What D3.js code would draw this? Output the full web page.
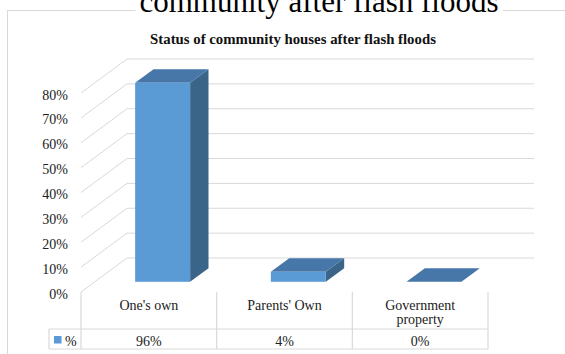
<!DOCTYPE html>
<html>
<head>
<meta charset="utf-8">
<script src="https://cdn.jsdelivr.net/npm/d3@7"></script>
<style>
  html, body { margin: 0; padding: 0; background: #fff; }
  svg { display: block; }
  text { font-family: "Liberation Serif", "Times New Roman", serif; }
</style>
</head>
<body>
<svg id="chart" width="565" height="354"></svg>
<script>
// ---- data ----
const categories = ["One's own", "Parents' Own", "Government property"];
const values = [0.96, 0.04, 0];
const seriesName = "%";
const yTicks = [0, 0.1, 0.2, 0.3, 0.4, 0.5, 0.6, 0.7, 0.8];
const chartTitle = "Status of community houses after flash floods";
const pageHeading = "community after flash floods";

// ---- layout ----
const W = 565, H = 354;
const svg = d3.select("#chart");
const frontLeft = 81, frontRight = 488;
const DX = 46, DY = -34;        // full depth offset of the 3D box
const barFront = 0.3, barBack = 0.7;
const colFront = "#5B9BD5", colTop = "#4677A8", colSide = "#3B6489";
const gridCol = "#d9d9d9";

const x = d3.scaleBand().domain(categories).range([frontLeft, frontRight]).paddingInner(0).paddingOuter(0);
const y = d3.scaleLinear().domain([0, 0.8]).range([292, 93]).clamp(true);
const pct = d3.format(".0%");

// chart frame
svg.append("rect").attr("x", 7.5).attr("y", 10.5).attr("width", 600).attr("height", 400)
  .attr("fill", "#fff").attr("stroke", gridCol).attr("stroke-width", 1);

// page heading (cut off at the top, sits over the frame edge)
const head = svg.append("text").attr("x", 319).attr("y", 12).attr("text-anchor", "middle")
  .attr("font-size", 31).attr("fill", "#000").text(pageHeading);
const hb = head.node().getBBox();
svg.insert("rect", "text").attr("x", hb.x - 4).attr("y", 0).attr("width", hb.width + 8).attr("height", 14)
  .attr("fill", "#fff");

// title
svg.append("text").attr("x", 293).attr("y", 44).attr("text-anchor", "middle")
  .attr("font-size", 14.8).attr("font-weight", "bold").attr("fill", "#111").text(chartTitle);

// gridlines: left wall diagonals + back wall horizontals
const g = svg.append("g");
yTicks.forEach(t => {
  const yf = y(t);
  g.append("line").attr("x1", frontLeft).attr("y1", yf).attr("x2", frontLeft + DX).attr("y2", yf + DY)
    .attr("stroke", gridCol).attr("stroke-width", 1);
  g.append("line").attr("x1", frontLeft + DX).attr("y1", yf + DY).attr("x2", frontRight + DX).attr("y2", yf + DY)
    .attr("stroke", gridCol).attr("stroke-width", 1);
});

// y axis labels
svg.append("g").selectAll("text").data(yTicks).join("text")
  .attr("x", 68).attr("y", d => y(d) + 2).attr("text-anchor", "end").attr("dominant-baseline", "central")
  .attr("font-size", 14).attr("fill", "#222").text(d => pct(d));

// bars
const bw = x.bandwidth() * 0.405;
const bdx = DX * (barBack - barFront), bdy = DY * (barBack - barFront);
const bars = svg.append("g");
categories.forEach((c, i) => {
  const xl = x(c) + (x.bandwidth() - bw) / 2 + DX * barFront;
  const xr = xl + bw;
  const yb = y(0) + DY * barFront;
  const yt = y(values[i]) + DY * barFront;
  const pts = a => a.map(p => p.join(",")).join(" ");
  if (yb - yt > 0.5) {
    bars.append("polygon").attr("points", pts([[xr, yb], [xr, yt], [xr + bdx, yt + bdy], [xr + bdx, yb + bdy]]))
      .attr("fill", colSide);
  }
  bars.append("polygon").attr("points", pts([[xl, yt], [xr, yt], [xr + bdx, yt + bdy], [xl + bdx, yt + bdy]]))
    .attr("fill", colTop);
  if (yb - yt > 0.5) {
    bars.append("rect").attr("x", xl).attr("y", yt).attr("width", bw).attr("height", yb - yt)
      .attr("fill", colFront);
  }
});

// data table
const tTop = 292, tRow = 329, tBot = 349, tLeft = 49;
const tg = svg.append("g").attr("stroke", gridCol).attr("stroke-width", 1.2);
[frontLeft, ...categories.map(c => x(c) + x.bandwidth())].forEach(xx => {
  tg.append("line").attr("x1", xx).attr("x2", xx).attr("y1", tTop).attr("y2", tBot);
});
tg.append("line").attr("x1", tLeft).attr("x2", frontRight).attr("y1", tRow).attr("y2", tRow);
tg.append("line").attr("x1", tLeft).attr("x2", frontRight).attr("y1", tBot).attr("y2", tBot);
tg.append("line").attr("x1", tLeft).attr("x2", tLeft).attr("y1", tRow).attr("y2", tBot);

// category labels (wrapped)
categories.forEach(c => {
  const t = svg.append("text").attr("x", x(c) + x.bandwidth() / 2).attr("y", 310)
    .attr("text-anchor", "middle").attr("font-size", 14).attr("fill", "#222");
  const words = c.split(" ");
  let line = [], tspan = t.append("tspan").attr("x", x(c) + x.bandwidth() / 2).attr("dy", 0);
  words.forEach(w => {
    line.push(w);
    tspan.text(line.join(" "));
    if (tspan.node().getComputedTextLength() > x.bandwidth() - 40 && line.length > 1) {
      line.pop();
      tspan.text(line.join(" "));
      line = [w];
      tspan = t.append("tspan").attr("x", x(c) + x.bandwidth() / 2).attr("dy", 14).text(w);
    }
  });
});

// values row
svg.append("g").selectAll("text").data(categories).join("text")
  .attr("x", d => x(d) + x.bandwidth() / 2).attr("y", 346).attr("text-anchor", "middle")
  .attr("font-size", 14).attr("fill", "#222").text((d, i) => pct(values[i]));

// legend key
svg.append("rect").attr("x", 54).attr("y", 336).attr("width", 7.5).attr("height", 7.5).attr("fill", colFront);
svg.append("text").attr("x", 65).attr("y", 346).attr("font-size", 14).attr("fill", "#222").text(seriesName);
</script>
</body>
</html>
